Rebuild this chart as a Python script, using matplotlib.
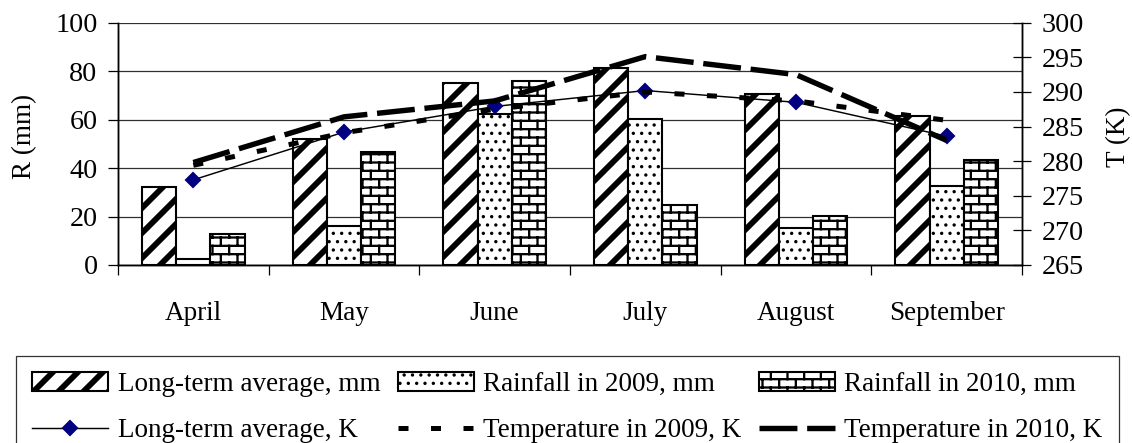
import numpy as np
import matplotlib
matplotlib.use('Agg')
import matplotlib.pyplot as plt
import matplotlib.hatch as mhatch
from matplotlib.path import Path
from matplotlib.ticker import FixedLocator

plt.rcParams['font.family'] = ['Liberation Serif', 'DejaVu Serif']

# Data
months = ['April', 'May', 'June', 'July', 'August', 'September']
rain_lt = [32.3, 51.8, 75.2, 81.1, 70.5, 61.4]
rain_2009 = [2.3, 16.2, 62.5, 60.1, 15.4, 32.7]
rain_2010 = [12.7, 46.5, 75.9, 24.7, 20.2, 43.4]
temp_lt = [277.3, 284.2, 287.9, 290.2, 288.5, 283.6]
temp_2009 = [279.4, 284.1, 287.5, 290.0, 288.7, 285.9]
temp_2010 = [279.8, 286.4, 288.7, 295.1, 292.5, 283.0]


# brick hatch, hooked onto the '*' character (stars are not used here)
class BrickHatch(mhatch.HatchPatternBase):
    rows = 18
    cols = 9

    def __init__(self, hatch, density):
        self.segs = []
        if hatch.count('*') > 0:
            ys = (np.arange(self.rows) + 0.5) / self.rows
            for y in ys:
                self.segs.append(((0.0, y), (1.0, y)))
            for i in range(self.rows):
                xs = (np.arange(self.cols) + 0.25 + 0.5 * (i % 2)) / self.cols
                for x in xs:
                    if i < self.rows - 1:
                        self.segs.append(((x, ys[i]), (x, ys[i + 1])))
                    else:
                        self.segs.append(((x, ys[i]), (x, 1.0)))
                        self.segs.append(((x, 0.0), (x, ys[0])))
        self.num_vertices = len(self.segs) * 2

    def set_vertices_and_codes(self, vertices, codes):
        for k, (a, b) in enumerate(self.segs):
            vertices[2 * k] = a
            vertices[2 * k + 1] = b
            codes[2 * k] = Path.MOVETO
            codes[2 * k + 1] = Path.LINETO


mhatch._hatch_types = [t for t in mhatch._hatch_types if t is not mhatch.Stars] + [BrickHatch]

W, H, DPI = 1132, 443, 150
fig = plt.figure(figsize=(W / DPI, H / DPI), dpi=DPI)
ax = fig.add_axes([118 / W, 1 - 265 / H, (1022 - 118) / W, (265 - 22.7) / H])
ax2 = ax.twinx()

x = np.arange(len(months))
bw = 0.227
hatch_lw = {'//': 2.8, '...': 0.8, '*': 1.1}


def hatched_bars(xpos, vals, hatch, label):
    plt.rcParams['hatch.linewidth'] = hatch_lw[hatch]
    bars = ax.bar(xpos, vals, bw, color='white', edgecolor='black', linewidth=1.0,
                  hatch=hatch, label=label, zorder=2)
    for b in bars:
        if hasattr(b, 'set_hatch_linewidth'):
            b.set_hatch_linewidth(hatch_lw[hatch])
    return bars


b1 = hatched_bars(x - bw, rain_lt, '//', 'Long-term average, mm')
b2 = hatched_bars(x, rain_2009, '...', 'Rainfall in 2009, mm')
b3 = hatched_bars(x + bw, rain_2010, '*', 'Rainfall in 2010, mm')

l1, = ax2.plot(x, temp_lt, color='black', lw=0.7, marker='D', ms=5,
               mfc='#000080', mec='#000080', label='Long-term average, K')
l2, = ax2.plot(x, temp_2009, color='black', lw=2.4, dashes=(2, 4.5),
               dash_capstyle='butt', label='Temperature in 2009, K')
l3, = ax2.plot(x, temp_2010, color='black', lw=2.6, dashes=(7, 1.8),
               dash_capstyle='butt', label='Temperature in 2010, K')

ax.set_xlim(-0.5, len(months) - 0.5)
ax.set_ylim(0, 100)
ax2.set_ylim(265, 300)
ax.set_yticks(np.arange(0, 101, 20))
ax2.set_yticks(np.arange(265, 301, 5))
ax.set_xticks(x)
ax.set_xticklabels(months)
ax.xaxis.set_minor_locator(FixedLocator(np.arange(-0.5, len(months), 1.0)))
ax.tick_params(axis='x', which='major', length=0, pad=17.5, labelsize=13)
ax.tick_params(axis='x', which='minor', length=4.8, width=0.6, direction='out')
ax.tick_params(axis='y', length=4.8, width=0.6, pad=5, labelsize=13.5)
ax2.tick_params(axis='y', length=9, width=0.6, direction='inout', pad=5, labelsize=13.5)

ax.grid(axis='y', color='#303030', lw=0.6, zorder=0)
ax.set_axisbelow(True)
for a in (ax, ax2):
    a.spines['top'].set_visible(False)
    for s in ('left', 'right', 'bottom'):
        a.spines[s].set_linewidth(0.7)

ax.set_ylabel('R (mm)', fontsize=13)
ax.yaxis.set_label_coords(-81 / (1022 - 118), 0.53)
ax2.set_ylabel('T (K)', fontsize=13)
ax2.yaxis.set_label_coords(1 + 84 / (1022 - 118), 0.53)

handles = [b1, b2, b3, l1, l2, l3]
labels = [h.get_label() for h in handles]
# reorder for row-wise layout with ncol=3
order = [0, 3, 1, 4, 2, 5]
leg = fig.legend([handles[i] for i in order], [labels[i] for i in order],
                 ncol=3, loc='upper left', mode='expand',
                 bbox_to_anchor=(16 / W, 0, (1119 - 16) / W, 1 - 356 / H),
                 fontsize=13, frameon=True, fancybox=False, edgecolor='black',
                 handlelength=2.8, handleheight=0.7, handletextpad=0.35,
                 columnspacing=0.4, labelspacing=0.78, borderpad=0.6,
                 borderaxespad=0, numpoints=1)
leg.get_frame().set_linewidth(0.6)
for p in leg.get_patches():
    h = p.get_hatch()
    if h in hatch_lw and hasattr(p, 'set_hatch_linewidth'):
        p.set_hatch_linewidth(hatch_lw[h])

fig.savefig('out.png', dpi=DPI)
